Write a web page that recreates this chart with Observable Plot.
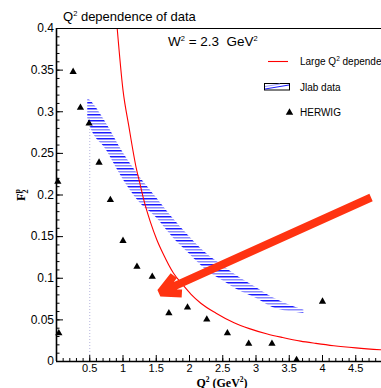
<!DOCTYPE html>
<html>
<head>
<meta charset="utf-8">
<script src="https://cdn.jsdelivr.net/npm/d3@7"></script>
<script src="https://cdn.jsdelivr.net/npm/@observablehq/plot@0.6"></script>
<style>
  html, body { margin: 0; padding: 0; background: #fff; }
  #chart svg { display: block; }
</style>
</head>
<body>
<div id="chart"></div>
<script>
// HERWIG points: F2p versus Q^2 (GeV^2)
const herwigQ2 = [0.02, 0.035, 0.25, 0.36, 0.49, 0.64, 0.81, 1.0, 1.21, 1.44, 1.69, 1.97, 2.26, 2.57, 2.89, 3.24, 3.61, 4.0];
const herwigF2 = [0.216, 0.034, 0.348, 0.305, 0.286, 0.239, 0.194, 0.145, 0.114, 0.102, 0.058, 0.065, 0.0505, 0.034, 0.0213, 0.0213, 0.002, 0.072];

// Large-Q^2 dependence curve
const modelQ2 = [0.913, 1.0, 1.087, 1.2, 1.26, 1.31, 1.41, 1.51, 1.6, 1.76, 1.9, 2.02, 2.17, 2.4, 2.67, 2.9, 3.17, 3.4, 3.67, 3.9, 4.17, 4.5, 4.87, 5.0];
const modelF2 = [0.400, 0.326, 0.283, 0.232, 0.212, 0.195, 0.168, 0.146, 0.130, 0.106, 0.092, 0.081, 0.070, 0.058, 0.0465, 0.0395, 0.033, 0.0288, 0.0245, 0.0218, 0.0190, 0.0164, 0.0141, 0.0134];

// Jlab data band (lower and upper edge)
const jlabQ2   = [0.47, 0.5, 0.75, 1.0, 1.25, 1.5, 1.75, 2.0, 2.25, 2.5, 2.75, 3.0, 3.25, 3.5, 3.72];
const jlabHigh = [0.316, 0.314, 0.286, 0.251, 0.222, 0.197, 0.172, 0.150, 0.130, 0.115, 0.101, 0.089, 0.077, 0.068, 0.062];
const jlabLow  = [0.292, 0.284, 0.254, 0.219, 0.191, 0.173, 0.149, 0.129, 0.110, 0.097, 0.085, 0.076, 0.065, 0.060, 0.058];

// Annotation arrow (tail -> head), in data units
const arrowTail = [4.73, 0.197];
const arrowHead = [1.565, 0.083];

// Axis ticks
const xTicks = [0.5, 1, 1.5, 2, 2.5, 3, 3.5, 4, 4.5];
const xTickLabels = ["0.5", "1", "1.5", "2", "2.5", "3", "3.5", "4", "4.5"];
const yTicks = [0, 0.05, 0.1, 0.15, 0.2, 0.25, 0.3, 0.35, 0.4];
const yTickLabels = ["0", "0.05", "0.1", "0.15", "0.2", "0.25", "0.3", "0.35", "0.4"];

const herwig = herwigQ2.map((q, i) => ({q2: q, f2: herwigF2[i]}));
const model = modelQ2.map((q, i) => ({q2: q, f2: modelF2[i]}));
const jlab = jlabQ2.map((q, i) => ({q2: q, lo: jlabLow[i], hi: jlabHigh[i]}));
const xMinor = d3.range(0, 50).map(i => i / 10);
const yMinor = d3.range(0, 41).map(i => i / 100);
const xLabel = new Map(xTicks.map((t, i) => [t, xTickLabels[i]]));
const yLabel = new Map(yTicks.map((t, i) => [t, yTickLabels[i]]));

const W = 381, H = 388;
const mL = 56, mT = 28, mB = 27, mR = -7.5;
const plotW = W - mR - mL, plotH = H - mT - mB;

const sans = "'Liberation Sans', Arial, Helvetica, sans-serif";
const serif = "'Liberation Serif', 'Times New Roman', serif";
const red = "#ff0000";
const arrowRed = "#ff3311";

// hatch pattern used by the band
const defs = () => {
  const g = d3.create("svg:defs");
  const p = g.append("pattern").attr("id", "jlabHatch")
    .attr("patternUnits", "userSpaceOnUse").attr("width", 6).attr("height", 6);
  p.append("rect").attr("x", 0).attr("y", 0).attr("width", 6).attr("height", 1.5).attr("fill", "#1a1aff");
  p.append("rect").attr("x", 0).attr("y", 3).attr("width", 6).attr("height", 1.5).attr("fill", "#8c8cff");
  return g.node();
};

const chart = Plot.plot({
  width: W,
  height: H,
  marginLeft: mL,
  marginTop: mT,
  marginBottom: mB,
  marginRight: mR,
  x: {domain: [0, 5], axis: null},
  y: {domain: [0, 0.4], axis: null},
  style: {fontFamily: sans, fontSize: "11px", background: "#fff", color: "#000"},
  marks: [
    defs,
    Plot.areaY(jlab, {x: "q2", y1: "lo", y2: "hi", fill: "url(#jlabHatch)", curve: "monotone-x"}),
    Plot.ruleX([0.5], {y1: 0, y2: 0.286, stroke: "#b4b4dc", strokeDasharray: "1 2"}),
    Plot.line(model, {x: "q2", y: "f2", stroke: red, strokeWidth: 1.1, curve: "monotone-x"}),
    Plot.dot(herwig, {x: "q2", y: "f2", symbol: "triangle", fill: "#000", stroke: "none", r: 2.7}),
    Plot.arrow([{x1: arrowTail[0], y1: arrowTail[1], x2: arrowHead[0], y2: arrowHead[1]}], {
      x1: "x1", y1: "y1", x2: "x2", y2: "y2",
      stroke: arrowRed, strokeWidth: 8, headLength: 4, headAngle: 55,
      strokeLinecap: "butt", strokeLinejoin: "miter", strokeMiterlimit: 2
    }),
    Plot.frame({stroke: "#000", strokeWidth: 1}),
    Plot.ruleX([0], {stroke: "#000", strokeWidth: 1.6}),
    Plot.ruleY([0], {stroke: "#000", strokeWidth: 1.6}),
    // inward ticks: major and minor on both axes
    Plot.tickY(yTicks, {y: d => d, stroke: "#000", insetRight: plotW - 7}),
    Plot.tickY(yMinor, {y: d => d, stroke: "#000", insetRight: plotW - 3.5}),
    Plot.tickX(xTicks, {x: d => d, stroke: "#000", insetTop: plotH - 6}),
    Plot.tickX(xMinor, {x: d => d, stroke: "#000", insetTop: plotH - 3}),
    Plot.axisY({ticks: yTicks, tickSize: 0, tickPadding: 2.5, tickFormat: d => yLabel.get(d), fontSize: 12}),
    Plot.axisX({anchor: "bottom", ticks: xTicks, tickSize: 0, tickPadding: 3, tickFormat: d => xLabel.get(d), fontSize: 11})
  ]
});

const svg = d3.select(chart);
const overlay = svg.append("g").attr("text-anchor", "start").attr("fill", "#000");

// superscript helper: parts = [[text, isSup], ...]
function richText(sel, parts, supSize, lift = 5) {
  let shifted = false;
  parts.forEach(([t, sup]) => {
    const ts = sel.append("tspan").text(t);
    if (sup && !shifted) { ts.attr("dy", -lift).attr("font-size", supSize); shifted = true; }
    else if (!sup && shifted) { ts.attr("dy", lift); shifted = false; }
  });
  return sel;
}

// title
richText(overlay.append("text").attr("x", 63).attr("y", 21)
  .attr("font-family", sans).attr("font-size", 13),
  [["Q", false], ["2", true], [" dependence of data", false]], 7.5);

// W^2 annotation
richText(overlay.append("text").attr("x", 168).attr("y", 46)
  .attr("font-family", sans).attr("font-size", 13.5),
  [["W", false], ["2", true], [" = 2.3  GeV", false], ["2", true]], 7.5);

// x axis title
richText(overlay.append("text").attr("x", 222).attr("y", 386.5).attr("text-anchor", "middle")
  .attr("font-family", serif).attr("font-weight", "bold").attr("font-size", 12),
  [["Q", false], ["2", true], [" (GeV", false], ["2", true], [")", false]], 7.5, 4.5);

// y axis title F_2^p
const yt = overlay.append("text").attr("transform", "translate(25,195) rotate(-90)")
  .attr("text-anchor", "middle").attr("font-family", serif)
  .attr("font-weight", "bold").attr("font-size", 12.5);
yt.append("tspan").text("F");
yt.append("tspan").text("2").attr("font-size", 8).attr("dy", 3);
yt.append("tspan").text("p").attr("font-size", 8).attr("dx", -4).attr("dy", -8);

// legend
const lg = overlay.append("g").attr("font-family", sans).attr("font-size", 10);
lg.append("line").attr("x1", 268).attr("x2", 288).attr("y1", 61.5).attr("y2", 61.5)
  .attr("stroke", red).attr("stroke-width", 1.1);
richText(lg.append("text").attr("x", 300).attr("y", 65),
  [["Large Q", false], ["2", true], [" dependence", false]], 6.5, 4);
lg.append("rect").attr("x", 264.5).attr("y", 83.5).attr("width", 25).attr("height", 6.5)
  .attr("fill", "#fff").attr("stroke", "#000").attr("stroke-width", 1);
lg.append("line").attr("x1", 265).attr("y1", 89).attr("x2", 289).attr("y2", 85)
  .attr("stroke", "#1a1aff").attr("stroke-width", 1);
lg.append("line").attr("x1", 265).attr("y1", 86.5).attr("x2", 280).attr("y2", 84)
  .attr("stroke", "#9a9aff").attr("stroke-width", 1);
lg.append("text").attr("x", 300).attr("y", 90.5).text("Jlab data");
lg.append("path").attr("d", d3.symbol(d3.symbolTriangle, 24)()).attr("transform", "translate(289.5,112.5)")
  .attr("fill", "#000");
lg.append("text").attr("x", 300).attr("y", 115.5).text("HERWIG");

document.getElementById("chart").appendChild(chart);
</script>
</body>
</html>
